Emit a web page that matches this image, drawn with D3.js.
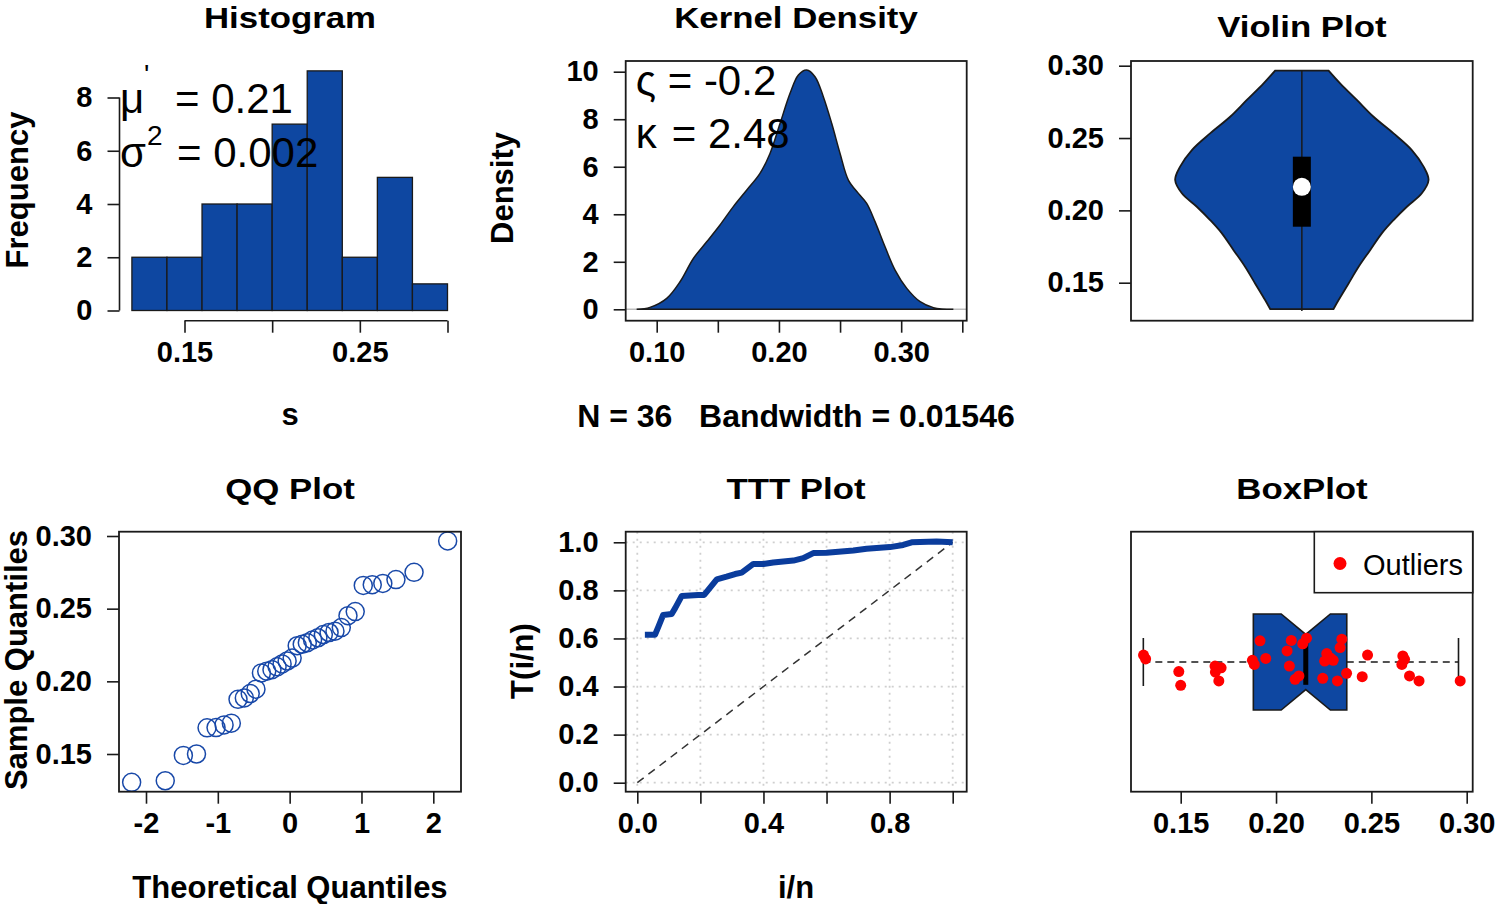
<!DOCTYPE html>
<html>
<head>
<meta charset="utf-8">
<script src="https://cdn.jsdelivr.net/npm/d3@7"></script>
<style>
  body { margin: 0; background: #fff; }
  text { font-family: "Liberation Sans", Arial, sans-serif; }
</style>
</head>
<body>
<svg id="chart" width="1500" height="904"></svg>
<script>
// ---- data ----
// sorted sample (n = 36)
const sample = [0.1305, 0.1316, 0.1490, 0.1500, 0.1680, 0.1682, 0.1700, 0.1712, 0.1876,
  0.1886, 0.1916, 0.1946, 0.2058, 0.2070, 0.2080, 0.2100, 0.2120, 0.2140, 0.2160, 0.2245,
  0.2255, 0.2266, 0.2285, 0.2300, 0.2322, 0.2336, 0.2345, 0.2370, 0.2452, 0.2480, 0.2660,
  0.2665, 0.2674, 0.2700, 0.2750, 0.2966];

const histBreaks = [0.12, 0.14, 0.16, 0.18, 0.20, 0.22, 0.24, 0.26, 0.28, 0.30];
const histCounts = [2, 2, 4, 4, 7, 9, 2, 5, 1];
const histXTicks = [0.15, 0.20, 0.25, 0.30];
const histXLabels = ['0.15', '', '0.25', ''];
const histYTicks = [0, 2, 4, 6, 8];

const densX = [0.0836, 0.0945, 0.1082, 0.1191, 0.1300, 0.1409, 0.1518, 0.1627, 0.1737, 0.1845,
  0.1927, 0.2009, 0.2091, 0.2159, 0.2227, 0.2295, 0.2363, 0.2432, 0.2500, 0.2568, 0.2650,
  0.2718, 0.2786, 0.2868, 0.2950, 0.3046, 0.3155, 0.3264, 0.3427];
const densY = [0, 0.08, 0.46, 1.16, 2.14, 2.84, 3.55, 4.32, 5.02, 5.72,
  6.56, 7.82, 9.09, 9.86, 10.07, 9.79, 8.95, 7.82, 6.56, 5.44, 4.88,
  4.46, 3.69, 2.63, 1.65, 0.88, 0.32, 0.07, 0];
const densXTicks = [0.10, 0.15, 0.20, 0.25, 0.30, 0.35];
const densXLabels = ['0.10', '', '0.20', '', '0.30', ''];
const densYTicks = [0, 2, 4, 6, 8, 10];

const violinV = [0.2966, 0.2878, 0.2763, 0.2647, 0.2532, 0.2417, 0.2302, 0.2210, 0.2118,
  0.2025, 0.1933, 0.1841, 0.1725, 0.1610, 0.1495, 0.1380, 0.1318];
const violinW = [0.211, 0.302, 0.434, 0.566, 0.724, 0.868, 0.961, 1.0, 0.947,
  0.829, 0.724, 0.631, 0.539, 0.448, 0.369, 0.290, 0.250];
const violinBox = [0.1887, 0.2163, 0.2371]; // q1, median, q3
const violinTicks = [0.15, 0.20, 0.25, 0.30];
const violinLabels = ['0.15', '0.20', '0.25', '0.30'];

const qqTheo = [-2.200, -1.732, -1.480, -1.297, -1.150, -1.025, -0.913, -0.812, -0.719,
  -0.631, -0.549, -0.469, -0.393, -0.319, -0.246, -0.175, -0.105, -0.035, 0.035, 0.105,
  0.175, 0.246, 0.319, 0.393, 0.469, 0.549, 0.631, 0.719, 0.812, 0.913, 1.025, 1.150,
  1.297, 1.480, 1.732, 2.200];
const qqXTicks = [-2, -1, 0, 1, 2];
const qqXLabels = ['-2', '-1', '0', '1', '2'];
const qqYTicks = [0.15, 0.20, 0.25, 0.30];
const qqYLabels = ['0.15', '0.20', '0.25', '0.30'];

const tttX = [0.024, 0.056, 0.067, 0.082, 0.109, 0.120, 0.141, 0.193, 0.212, 0.225, 0.252,
  0.283, 0.310, 0.331, 0.368, 0.400, 0.431, 0.495, 0.526, 0.558, 0.600, 0.685, 0.727,
  0.801, 0.843, 0.870, 0.949, 1.000];
const tttY = [0.615, 0.615, 0.649, 0.698, 0.702, 0.726, 0.777, 0.781, 0.781, 0.802, 0.846,
  0.857, 0.868, 0.874, 0.910, 0.910, 0.916, 0.924, 0.934, 0.955, 0.957, 0.966, 0.973,
  0.980, 0.989, 1.000, 1.003, 1.000];
const tttTicks = [0, 0.2, 0.4, 0.6, 0.8, 1.0];
const tttXLabels = ['0.0', '', '0.4', '', '0.8', ''];
const tttYLabels = ['0.0', '0.2', '0.4', '0.6', '0.8', '1.0'];

const boxStats = [0.1304, 0.1881, 0.2156, 0.2371, 0.2957]; // lower whisker, q1, median, q3, upper whisker
const boxNotch = [0.2027, 0.2285];
const boxJitter = [0.029, 0.013, -0.040, -0.097, -0.017, -0.042, -0.079, -0.024, 0.007,
  -0.010, 0.088, 0.015, 0.046, -0.017, 0.090, -0.072, -0.058, 0.076, 0.099, -0.068,
  0.004, 0.035, 0.017, 0.007, -0.079, 0.060, 0.095, -0.047, -0.061, 0.029, -0.010,
  0.025, 0.011, -0.058, -0.079, -0.079];
const boxTicks = [0.15, 0.20, 0.25, 0.30];
const boxLabels = ['0.15', '0.20', '0.25', '0.30'];

// ---- layout ----
const cols = [[119, 461], [625.7, 966.7], [1131, 1472.7]];
const rows = [[61, 320.7], [531.7, 791.7]];
const blue = '#0E47A1';
const ink = '#1a1a1a';

const svg = d3.select('#chart');

function frame(c, r) {
  svg.append('rect')
    .attr('x', cols[c][0]).attr('y', rows[r][0])
    .attr('width', cols[c][1] - cols[c][0]).attr('height', rows[r][1] - rows[r][0])
    .attr('fill', 'none').attr('stroke', ink).attr('stroke-width', 1.8);
}

function styleAxis(g, keepLine, lo, hi, vertical) {
  g.selectAll('text').attr('font-size', 29).attr('font-weight', 'bold').attr('fill', '#000')
    .attr('font-family', '"Liberation Sans", Arial, sans-serif');
  g.selectAll('.tick line').attr('stroke', ink).attr('stroke-width', 1.6);
  if (keepLine) {
    g.select('.domain').attr('stroke', ink).attr('stroke-width', 1.6)
      .attr('d', vertical ? `M0,${lo}V${hi}` : `M${lo},0H${hi}`);
  } else {
    g.select('.domain').remove();
  }
}

function xAxis(scale, ticks, labels, y, keepLine) {
  const g = svg.append('g').attr('transform', `translate(0,${y})`)
    .call(d3.axisBottom(scale).tickValues(ticks).tickSize(12).tickSizeOuter(0).tickPadding(9)
      .tickFormat((d, i) => labels[i]));
  styleAxis(g, keepLine, scale(ticks[0]), scale(ticks[ticks.length - 1]), false);
}

function yAxis(scale, ticks, labels, x, keepLine) {
  const g = svg.append('g').attr('transform', `translate(${x},0)`)
    .call(d3.axisLeft(scale).tickValues(ticks).tickSize(12).tickSizeOuter(0).tickPadding(15)
      .tickFormat((d, i) => labels[i]));
  styleAxis(g, keepLine, scale(ticks[0]), scale(ticks[ticks.length - 1]), true);
}

function label(txt, x, y, size, opts = {}) {
  const t = svg.append('text')
    .attr('text-anchor', opts.anchor || 'middle')
    .attr('font-size', size)
    .attr('font-weight', opts.weight || 'bold')
    .attr('fill', opts.fill || '#000')
    .style('white-space', 'pre')
    .text(txt);
  if (opts.rotate) t.attr('transform', `translate(${x},${y}) rotate(-90)`);
  else if (opts.sx) t.attr('transform', `translate(${x},${y}) scale(${opts.sx},1)`);
  else t.attr('x', x).attr('y', y);
  return t;
}

// panel titles are wide bold glyphs in the source, so stretch them a little
const title = (txt, x, y) => label(txt, x, y, 30, { sx: 1.16 });

// ---- 1. Histogram ----
const histX = d3.scaleLinear().domain([0.15, 0.30]).range([184.5, 447.5]);
const histY = d3.scaleLinear().domain([0, 8]).range([310.5, 97.5]);

svg.append('g').selectAll('rect')
  .data(histCounts)
  .join('rect')
  .attr('x', (d, i) => histX(histBreaks[i]))
  .attr('width', (d, i) => histX(histBreaks[i + 1]) - histX(histBreaks[i]))
  .attr('y', d => histY(d))
  .attr('height', d => histY(0) - histY(d))
  .attr('fill', blue).attr('stroke', ink).attr('stroke-width', 1.3);

xAxis(histX, histXTicks, histXLabels, rows[0][1], true);
yAxis(histY, histYTicks, histYTicks.map(String), cols[0][0] + 0.5, true);

// mean / variance annotation
const hx = cols[0][0];
label('\u03bc', hx + 1, 113, 42, { anchor: 'start', weight: 'normal' });
label("'", hx + 25, 84, 28, { anchor: 'start', weight: 'normal' });
label('= 0.21', hx + 56, 113, 42, { anchor: 'start', weight: 'normal' });
label('\u03c3', hx + 1, 167, 42, { anchor: 'start', weight: 'normal' });
label('2', hx + 28, 145, 28, { anchor: 'start', weight: 'normal' });
label('= 0.002', hx + 58, 167, 42, { anchor: 'start', weight: 'normal' });

title('Histogram', 290, 28);
label('s', 290, 425, 31);
label('Frequency', 28, 190, 31, { rotate: true });

// ---- 2. Kernel density ----
const densXs = d3.scaleLinear().domain([0.10, 0.35]).range([656.7, 962.3]);
const densYs = d3.scaleLinear().domain([0, 10]).range([309.3, 71.7]);

svg.append('line')
  .attr('x1', cols[1][0]).attr('x2', cols[1][1])
  .attr('y1', densYs(0)).attr('y2', densYs(0))
  .attr('stroke', '#bdbdbd').attr('stroke-width', 1.5);

svg.append('path')
  .datum(densX.map((x, i) => [x, densY[i]]))
  .attr('d', d3.area().x(d => densXs(d[0])).y0(densYs(0)).y1(d => densYs(d[1])).curve(d3.curveCatmullRom))
  .attr('fill', blue).attr('stroke', ink).attr('stroke-width', 1.5);

frame(1, 0);
xAxis(densXs, densXTicks, densXLabels, rows[0][1], false);
yAxis(densYs, densYTicks, densYTicks.map(String), cols[1][0], false);

const kx = cols[1][0];
label('\u03c2', kx + 10, 95, 42, { anchor: 'start', weight: 'normal' });
label('= -0.2', kx + 42, 95, 42, { anchor: 'start', weight: 'normal' });
label('\u03ba', kx + 10, 148, 42, { anchor: 'start', weight: 'normal' });
label('= 2.48', kx + 46, 148, 42, { anchor: 'start', weight: 'normal' });

title('Kernel Density', 796, 28);
label('N = 36   Bandwidth = 0.01546', 796, 427, 32);
label('Density', 513, 188, 31, { rotate: true });

// ---- 3. Violin ----
const violY = d3.scaleLinear().domain([0.15, 0.30]).range([282.7, 65.7]);
const violW = d3.scaleLinear().domain([0, 1]).range([0, 126.7]);
const vcx = (cols[2][0] + cols[2][1]) / 2;

svg.append('path')
  .datum(violinV.map((v, i) => [v, violinW[i]]))
  .attr('d', d3.area().y(d => violY(d[0])).x0(d => vcx - violW(d[1])).x1(d => vcx + violW(d[1]))
    .curve(d3.curveCatmullRom))
  .attr('fill', blue).attr('stroke', ink).attr('stroke-width', 1.8);

svg.append('line')
  .attr('x1', vcx).attr('x2', vcx)
  .attr('y1', violY(d3.min(sample))).attr('y2', violY(d3.max(sample)))
  .attr('stroke', ink).attr('stroke-width', 1.5);
svg.append('rect')
  .attr('x', vcx - 9).attr('width', 18)
  .attr('y', violY(violinBox[2])).attr('height', violY(violinBox[0]) - violY(violinBox[2]))
  .attr('fill', '#000');
svg.append('circle')
  .attr('cx', vcx).attr('cy', violY(violinBox[1])).attr('r', 9)
  .attr('fill', '#fff');

frame(2, 0);
yAxis(violY, violinTicks, violinLabels, cols[2][0], false);
title('Violin Plot', vcx, 37);

// ---- 4. QQ plot ----
const qqX = d3.scaleLinear().domain([-2, 2]).range([146, 433.3]);
const qqY = d3.scaleLinear().domain([0.15, 0.30]).range([754, 536]);

svg.append('g').selectAll('circle')
  .data(sample)
  .join('circle')
  .attr('cx', (d, i) => qqX(qqTheo[i]))
  .attr('cy', d => qqY(d))
  .attr('r', 9)
  .attr('fill', 'none').attr('stroke', '#1848a8').attr('stroke-width', 1.5);

frame(0, 1);
xAxis(qqX, qqXTicks, qqXLabels, rows[1][1], false);
yAxis(qqY, qqYTicks, qqYLabels, cols[0][0], false);

title('QQ Plot', 290, 499);
label('Theoretical Quantiles', 290, 898, 31);
label('Sample Quantiles', 27, 660, 31, { rotate: true });

// ---- 5. TTT plot ----
const tX = d3.scaleLinear().domain([0, 1]).range([637.3, 952.7]);
const tY = d3.scaleLinear().domain([0, 1]).range([782.7, 542.3]);

const grid = svg.append('g')
  .attr('stroke', '#cfcfcf').attr('stroke-width', 1.8).attr('stroke-dasharray', '2,5');
grid.selectAll('.gx').data(tttTicks).join('line')
  .attr('class', 'gx')
  .attr('x1', d => tX(d)).attr('x2', d => tX(d))
  .attr('y1', rows[1][0]).attr('y2', rows[1][1]);
grid.selectAll('.gy').data(tttTicks).join('line')
  .attr('class', 'gy')
  .attr('y1', d => tY(d)).attr('y2', d => tY(d))
  .attr('x1', cols[1][0]).attr('x2', cols[1][1]);

svg.append('line')
  .attr('x1', tX(0)).attr('y1', tY(0)).attr('x2', tX(1)).attr('y2', tY(1))
  .attr('stroke', '#333').attr('stroke-width', 1.5).attr('stroke-dasharray', '8,6');

svg.append('path')
  .datum(tttX.map((x, i) => [x, tttY[i]]))
  .attr('d', d3.line().x(d => tX(d[0])).y(d => tY(d[1])))
  .attr('fill', 'none').attr('stroke', '#0A3C9C').attr('stroke-width', 6)
  .attr('stroke-linejoin', 'round');

frame(1, 1);
xAxis(tX, tttTicks, tttXLabels, rows[1][1], false);
yAxis(tY, tttTicks, tttYLabels, cols[1][0], false);

title('TTT Plot', 796, 499);
label('i/n', 796, 898, 31);
label('T(i/n)', 533, 661, 31, { rotate: true });

// ---- 6. Notched box plot ----
const bX = d3.scaleLinear().domain([0.15, 0.30]).range([1180.7, 1466.7]);
const bY = d3.scaleLinear().domain([0.46, 1.54]).range([791.7, 532.3]);
const [wLo, q1, med, q3, wHi] = boxStats;
const halfBox = 0.2, notchDepth = 0.085, staple = 0.1;

// whiskers
svg.append('g').attr('stroke', ink).attr('stroke-width', 1.6).attr('stroke-dasharray', '7,5')
  .selectAll('line').data([[wLo, q1], [q3, wHi]]).join('line')
  .attr('x1', d => bX(d[0])).attr('x2', d => bX(d[1]))
  .attr('y1', bY(1)).attr('y2', bY(1));
svg.append('g').attr('stroke', ink).attr('stroke-width', 1.6)
  .selectAll('line').data([wLo, wHi]).join('line')
  .attr('x1', d => bX(d)).attr('x2', d => bX(d))
  .attr('y1', bY(1 - staple)).attr('y2', bY(1 + staple));

const notchPts = [
  [q1, 1 + halfBox], [boxNotch[0], 1 + halfBox], [med, 1 + halfBox - notchDepth],
  [boxNotch[1], 1 + halfBox], [q3, 1 + halfBox], [q3, 1 - halfBox],
  [boxNotch[1], 1 - halfBox], [med, 1 - halfBox + notchDepth], [boxNotch[0], 1 - halfBox],
  [q1, 1 - halfBox]
];
svg.append('path')
  .attr('d', d3.line().x(d => bX(d[0])).y(d => bY(d[1]))(notchPts) + 'Z')
  .attr('fill', blue).attr('stroke', ink).attr('stroke-width', 1.6);
svg.append('line')
  .attr('x1', bX(med)).attr('x2', bX(med))
  .attr('y1', bY(1 + halfBox - notchDepth - 0.02)).attr('y2', bY(1 - halfBox + notchDepth + 0.02))
  .attr('stroke', '#000').attr('stroke-width', 5);

svg.append('g').selectAll('circle')
  .data(sample)
  .join('circle')
  .attr('cx', d => bX(d))
  .attr('cy', (d, i) => bY(1 + boxJitter[i]))
  .attr('r', 5.5)
  .attr('fill', '#ff0000');

frame(2, 1);
xAxis(bX, boxTicks, boxLabels, rows[1][1], false);

// legend
const lg = svg.append('g');
lg.append('rect')
  .attr('x', 1314.3).attr('y', rows[1][0])
  .attr('width', cols[2][1] - 1314.3).attr('height', 61)
  .attr('fill', '#fff').attr('stroke', ink).attr('stroke-width', 1.6);
lg.append('circle').attr('cx', 1340).attr('cy', 563.5).attr('r', 6.5).attr('fill', '#ff0000');
label('Outliers', 1363, 575, 29, { anchor: 'start', weight: 'normal' });

title('BoxPlot', 1302, 499);
</script>
</body>
</html>
